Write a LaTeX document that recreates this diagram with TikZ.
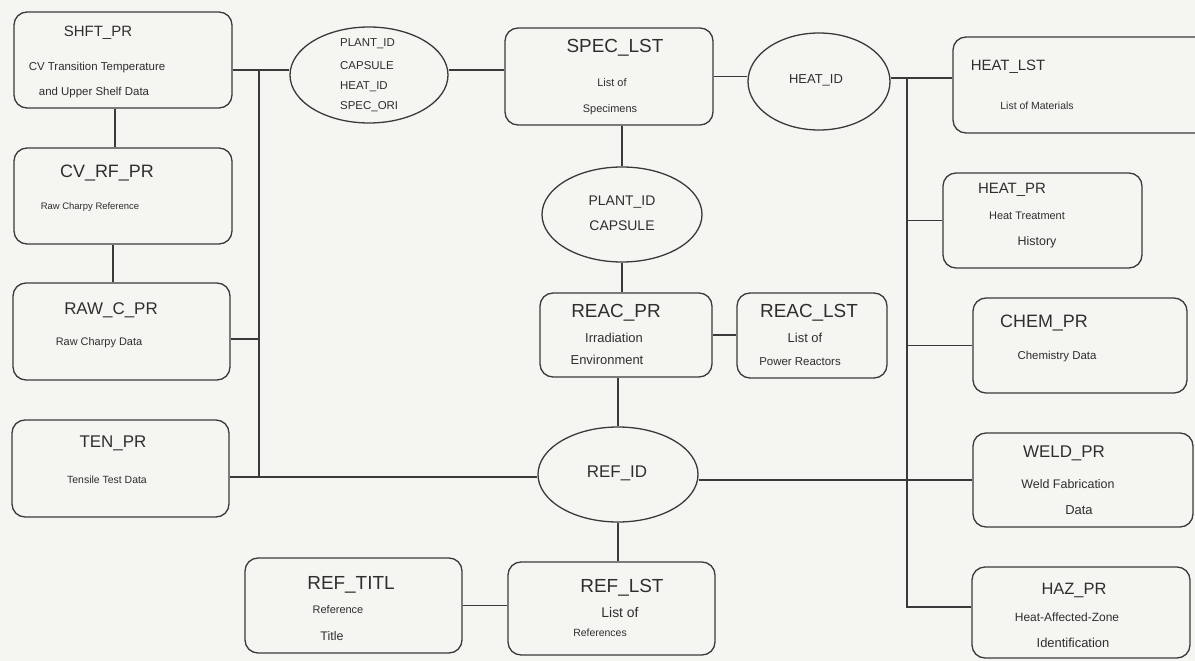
\documentclass[tikz,border=0pt]{standalone}
\usepackage{fontspec}
\setmainfont{Liberation Sans}
\usetikzlibrary{shapes.geometric}
\definecolor{paper}{HTML}{F5F5F2}
\definecolor{ink}{HTML}{3A3A3A}
\definecolor{txt}{HTML}{2E2E2E}
\tikzset{
  box/.style={draw=ink, line width=1.3bp, rounded corners=13bp, rectangle, inner sep=0pt},
  oval/.style={draw=ink, line width=1.3bp, ellipse, inner sep=0pt},
  wire/.style={draw=ink, line width=1.2bp},
  fs/.style={font=\fontsize{#1}{#1}\selectfont, text=txt, inner sep=0pt, anchor=center},
  lefttext/.style={font=\fontsize{#1}{#1}\selectfont, text=txt, inner sep=0pt, anchor=west},
}
\begin{document}
\begin{tikzpicture}[x=1bp, y=-1bp]
\fill[paper] (0,0) rectangle (1195,661);
\clip (0,0) rectangle (1195,661);

% ---- record boxes and key ovals ----
\node[box, minimum width=218bp, minimum height=96bp] (shft) at (123,60) {};
\node[box, minimum width=218bp, minimum height=96bp] (cvrf) at (123,196) {};
\node[box, minimum width=217bp, minimum height=97bp] (raw) at (121.5,331.5) {};
\node[box, minimum width=217bp, minimum height=97bp] (ten) at (120.5,468.5) {};
\node[oval, minimum width=158bp, minimum height=96bp] (e1) at (369,75) {};
\node[box, minimum width=208bp, minimum height=97bp] (spec) at (609,76.5) {};
\node[oval, minimum width=142bp, minimum height=97bp] (heatid) at (819,81.5) {};
\node[box, minimum width=262bp, minimum height=96bp] (heatlst) at (1084,85) {};
\node[box, minimum width=199bp, minimum height=95bp] (heatpr) at (1042.5,220.5) {};
\node[box, minimum width=214bp, minimum height=95bp] (chem) at (1080,345.5) {};
\node[box, minimum width=220bp, minimum height=94bp] (weld) at (1083,480) {};
\node[box, minimum width=218bp, minimum height=91bp] (haz) at (1081,612.5) {};
\node[oval, minimum width=160bp, minimum height=95bp] (e2) at (622,214.5) {};
\node[box, minimum width=172bp, minimum height=84bp] (reacpr) at (626,335) {};
\node[box, minimum width=150bp, minimum height=85bp] (reaclst) at (812,335.5) {};
\node[oval, minimum width=160bp, minimum height=95bp] (refid) at (618,474.5) {};
\node[box, minimum width=207bp, minimum height=93bp] (reflst) at (611.5,608.5) {};
\node[box, minimum width=217bp, minimum height=95bp] (reftitl) at (353.5,605.5) {};

% ---- texts ----
\node[fs=15] (t1) at (98,33) {SHFT\_PR};
\node[fs=11.5] (t1a) at (97,68) {CV Transition Temperature};
\node[fs=11.5] (t1b) at (94,93) {and Upper Shelf Data};

\node[fs=18] (t2) at (107,173) {CV\_RF\_PR};
\node[fs=9.5] (t2a) at (90,207) {Raw Charpy Reference};

\node[fs=17] (t3) at (111,310) {RAW\_C\_PR};
\node[fs=11] (t3a) at (99,343) {Raw Charpy Data};

\node[fs=17] (t4) at (113,443) {TEN\_PR};
\node[fs=10.5] (t4a) at (107,480) {Tensile Test Data};

\node[lefttext=11.5] (k1a) at (340,44) {PLANT\_ID};
\node[lefttext=11.5] (k1b) at (340,66) {CAPSULE};
\node[lefttext=11.5] (k1c) at (340,87) {HEAT\_ID};
\node[lefttext=11.5] (k1d) at (340,107) {SPEC\_ORI};

\node[fs=19] (t5) at (615,48) {SPEC\_LST};
\node[fs=11] (t5a) at (612,83) {List of};
\node[fs=11] (t5b) at (610,110) {Specimens};

\node[fs=13] (k2) at (816,80) {HEAT\_ID};

\node[fs=15] (t6) at (1008,67) {HEAT\_LST};
\node[fs=10.5] (t6a) at (1037,106) {List of Materials};

\node[fs=15] (t7) at (1012,190) {HEAT\_PR};
\node[fs=11] (t7a) at (1027,216) {Heat Treatment};
\node[fs=12.5] (t7b) at (1037,242) {History};

\node[fs=14] (k3a) at (622,202) {PLANT\_ID};
\node[fs=14] (k3b) at (622,226) {CAPSULE};

\node[fs=19] (t8) at (616,313) {REAC\_PR};
\node[fs=13] (t8a) at (614,338) {Irradiation};
\node[fs=13] (t8b) at (607,360) {Environment};

\node[fs=19] (t9) at (809,313) {REAC\_LST};
\node[fs=13] (t9a) at (805,338) {List of};
\node[fs=11.5] (t9b) at (800,362) {Power Reactors};

\node[fs=17] (k4) at (617,473) {REF\_ID};

\node[fs=19] (t10) at (351,585) {REF\_TITL};
\node[fs=11] (t10a) at (338,610) {Reference};
\node[fs=12.5] (t10b) at (332,636) {Title};

\node[fs=19] (t11) at (622,588) {REF\_LST};
\node[fs=14] (t11a) at (620,613) {List of};
\node[fs=10.5] (t11b) at (600,633) {References};

\node[fs=18] (t12) at (1044,323) {CHEM\_PR};
\node[fs=11.5] (t12a) at (1057,357) {Chemistry Data};

\node[fs=17] (t13) at (1064,453) {WELD\_PR};
\node[fs=12.5] (t13a) at (1068,484) {Weld Fabrication};
\node[fs=13] (t13b) at (1079,510) {Data};

\node[fs=16.5] (t14) at (1074,590) {HAZ\_PR};
\node[fs=12] (t14a) at (1067,617) {Heat-Affected-Zone};
\node[fs=13] (t14b) at (1073,643) {Identification};

% ---- bus junctions ----
\coordinate (lb1) at (259,70);
\coordinate (lb3) at (259,339);
\coordinate (lb2) at (259,477);
\coordinate (rb1) at (907,78);
\coordinate (rb2) at (907,607);
\coordinate (v1) at (115,0);
\coordinate (v2) at (113,0);

% ---- left side ----
\draw[wire] (shft.south -| v1) -- (cvrf.north -| v1);
\draw[wire] (cvrf.south -| v2) -- (raw.north -| v2);
\draw[wire] (shft.east |- lb1) -- (e1.west |- lb1);
\draw[wire] (lb1) -- (lb2);
\draw[wire] (raw.east |- lb3) -- (lb3);
\draw[wire] (ten.east |- lb2) -- (refid.west |- lb2);

% ---- top row ----
\draw[wire] (e1.east |- lb1) -- (spec.west |- lb1);
\draw[wire] (spec.east) -- (heatid.west |- spec.east);
\draw[wire] (heatid.east |- rb1) -- (heatlst.west |- rb1);

% ---- right bus ----
\draw[wire] (rb1) -- (rb2) -- (haz.west |- rb2);
\draw[wire] (rb1 |- heatpr.west) -- (heatpr.west);
\draw[wire] (rb1 |- chem.west) -- (chem.west);
\draw[wire] (refid.east |- weld.west) -- (weld.west);

% ---- centre column ----
\draw[wire] (e2.north |- spec.south) -- (e2.north);
\draw[wire] (e2.south) -- (e2.south |- reacpr.north);
\draw[wire] (reacpr.east) -- (reaclst.west |- reacpr.east);
\draw[wire] (refid.north |- reacpr.south) -- (refid.north);
\draw[wire] (refid.south) -- (refid.south |- reflst.north);
\draw[wire] (reftitl.east) -- (reflst.west |- reftitl.east);
\end{tikzpicture}
\end{document}
